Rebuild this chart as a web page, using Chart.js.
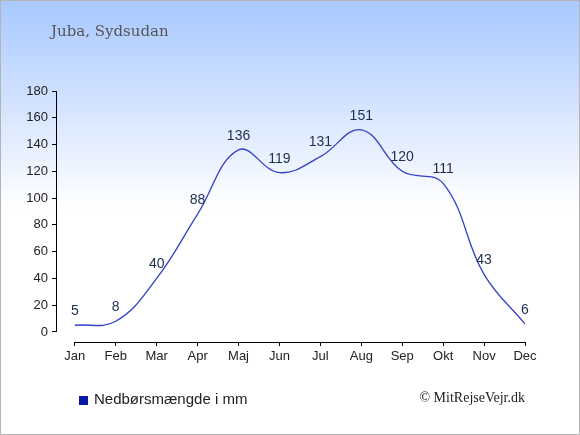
<!DOCTYPE html>
<html>
<head>
<meta charset="utf-8">
<script src="https://cdn.jsdelivr.net/npm/chart.js@4.4.1/dist/chart.umd.min.js"></script>
<style>
  body { margin: 0; }
  #wrap {
    position: relative; width: 580px; height: 435px; box-sizing: border-box;
    border: 1px solid #b4b4b4;
    background: linear-gradient(to bottom, #a8c8ff 0%, #ffffff 48%, #ffffff 100%);
    overflow: hidden;
  }
  #chart { position: absolute; left: 0; top: 0; }
  #title {
    position: absolute; left: 50px; top: 21px;
    font: 15px "DejaVu Serif", serif; color: #555;
  }
  #legend {
    position: absolute; left: 78px; top: 389px;
    font: 15px Arial, "Liberation Sans", sans-serif; color: #222;
  }
  #legend span.box {
    display: inline-block; width: 9px; height: 9px; margin-right: 6px; vertical-align: -1px;
  }
  #copy {
    position: absolute; right: 54px; top: 389px;
    font: 14px "Liberation Serif", serif; color: #222;
  }
</style>
</head>
<body>
<div id="wrap">
  <canvas id="chart" width="580" height="435"></canvas>
  <div id="title">Juba, Sydsudan</div>
  <div id="legend"></div>
  <div id="copy">© MitRejseVejr.dk</div>
</div>
<script>
// Data
const months = ['Jan', 'Feb', 'Mar', 'Apr', 'Maj', 'Jun', 'Jul', 'Aug', 'Sep', 'Okt', 'Nov', 'Dec'];
const rainfall = [5, 8, 40, 88, 136, 119, 131, 151, 120, 111, 43, 6];
const yTicks = [0, 20, 40, 60, 80, 100, 120, 140, 160, 180];
const seriesLabel = 'Nedbørsmængde i mm';

// Akselinjer: y-akse kun 0..180, x-akse kun Jan..Dec
const axisLines = {
    id: 'axisLines',
    afterDraw(chart) {
        const {ctx, chartArea, scales: {x, y}} = chart;
        ctx.save();
        ctx.strokeStyle = '#000';
        ctx.lineWidth = 1;
        ctx.beginPath();
        const ax = Math.round(chartArea.left) + 0.5;
        ctx.moveTo(ax, y.getPixelForValue(yTicks[yTicks.length - 1]));
        ctx.lineTo(ax, y.getPixelForValue(0));
        const ay = Math.round(chartArea.bottom) + 0.5;
        ctx.moveTo(x.getPixelForValue(0), ay);
        ctx.lineTo(x.getPixelForValue(months.length - 1), ay);
        ctx.stroke();
        ctx.restore();
    }
};

// Værdier over punkterne
const valueLabels = {
    id: 'valueLabels',
    afterDatasetsDraw(chart) {
        const {ctx} = chart;
        const meta = chart.getDatasetMeta(0);
        ctx.save();
        ctx.font = '14px Arial, "Liberation Sans", sans-serif';
        ctx.fillStyle = '#1c2f4f';
        ctx.textAlign = 'center';
        ctx.textBaseline = 'middle';
        meta.data.forEach((p, i) => {
            ctx.fillText(rainfall[i], p.x, p.y - 14);
        });
        ctx.restore();
    }
};

const chart = new Chart(document.getElementById('chart'), {
    type: 'line',
    data: {
        datasets: [{
            label: seriesLabel,
            data: rainfall.map((v, i) => ({x: i, y: v})),
            borderColor: '#3340c8',
            backgroundColor: '#0a1aa8',
            borderWidth: 1.3,
            tension: 0.4,
            pointRadius: 0,
            fill: false
        }]
    },
    options: {
        responsive: false,
        animation: false,
        layout: { padding: { top: 90, right: 56, bottom: 69, left: 0 } },
        plugins: {
            legend: { display: false },
            title: { display: false },
            tooltip: { enabled: false }
        },
        scales: {
            x: {
                type: 'linear',
                min: -0.46,
                max: months.length - 1,
                afterBuildTicks: s => { s.ticks = months.map((m, i) => ({value: i})); },
                afterFit: s => { s.height = 25; },
                ticks: {
                    callback: v => months[v],
                    font: { family: 'Arial, "Liberation Sans", sans-serif', size: 13 },
                    color: '#222',
                    padding: 3,
                    maxRotation: 0,
                    autoSkip: false
                },
                grid: { drawOnChartArea: false, tickLength: 4, color: '#000' },
                border: { display: false }
            },
            y: {
                min: -7.5,
                max: 180,
                afterBuildTicks: s => { s.ticks = yTicks.map(v => ({value: v})); },
                afterFit: s => { s.width = 55; },
                ticks: {
                    font: { family: 'Arial, "Liberation Sans", sans-serif', size: 13 },
                    color: '#222',
                    padding: 4
                },
                grid: { drawOnChartArea: false, tickLength: 4, color: '#000' },
                border: { display: false }
            }
        }
    },
    plugins: [axisLines, valueLabels]
});

// Forklaring (legend) bygget fra datasættet
const ds = chart.data.datasets[0];
document.getElementById('legend').innerHTML =
    '<span class="box" style="background:' + ds.backgroundColor + '"></span>' + ds.label;
</script>
</body>
</html>
